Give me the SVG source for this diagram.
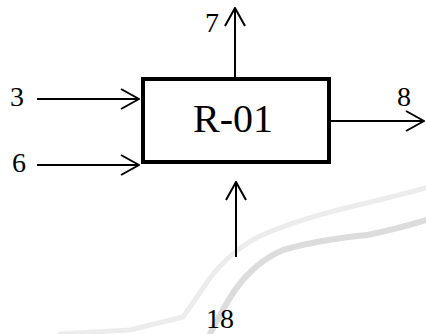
<svg xmlns="http://www.w3.org/2000/svg" width="426" height="334" viewBox="0 0 426 334">
<style>
text{font-family:"Liberation Serif",serif;fill:#000}
.lbl{font-size:28px}
.name{font-size:40px}
.ln{stroke:#000;stroke-width:2;fill:none}
.bg{fill:none;stroke-linecap:round;stroke-linejoin:round}
</style>
<defs>
<marker id="ah" viewBox="0 0 20 22" refX="19" refY="11" markerWidth="20" markerHeight="22" markerUnits="userSpaceOnUse" orient="auto">
<path d="M1,1 L19,11 L1,21" fill="none" stroke="#000" stroke-width="2"/>
</marker>
</defs>
<rect width="426" height="334" fill="#fff"/>
<g id="background">
<path class="bg" d="M60,334 L130,330 L183,317 Q195,300 210,278 Q232,250 260,236 Q300,218 367,203 Q400,195 426,188" stroke="#ececec" stroke-width="5"/>
<path class="bg" d="M210,334 Q222,310 235,290 Q255,262 283,250 Q317,240 367,235 Q400,228 426,220" stroke="#dcdcdc" stroke-width="6"/>
</g>
<g id="connectors">
<line class="ln" x1="37" y1="99" x2="139" y2="99" marker-end="url(#ah)"/>
<line class="ln" x1="37" y1="165" x2="139" y2="165" marker-end="url(#ah)"/>
<line class="ln" x1="235" y1="79" x2="235" y2="8" marker-end="url(#ah)"/>
<line class="ln" x1="330" y1="121" x2="424" y2="121" marker-end="url(#ah)"/>
<line class="ln" x1="236" y1="257" x2="236" y2="182" marker-end="url(#ah)"/>
</g>
<g id="R-01">
<rect x="143" y="79" width="186" height="83" fill="none" stroke="#000" stroke-width="4"/>
<text class="name" x="233" y="132" text-anchor="middle">R-01</text>
</g>
<g id="labels">
<text class="lbl" x="17" y="106" text-anchor="middle">3</text>
<text class="lbl" x="19" y="172" text-anchor="middle">6</text>
<text class="lbl" x="212" y="32" text-anchor="middle">7</text>
<text class="lbl" x="404" y="106" text-anchor="middle">8</text>
<text class="lbl" x="220" y="328" text-anchor="middle">18</text>
</g>
</svg>
